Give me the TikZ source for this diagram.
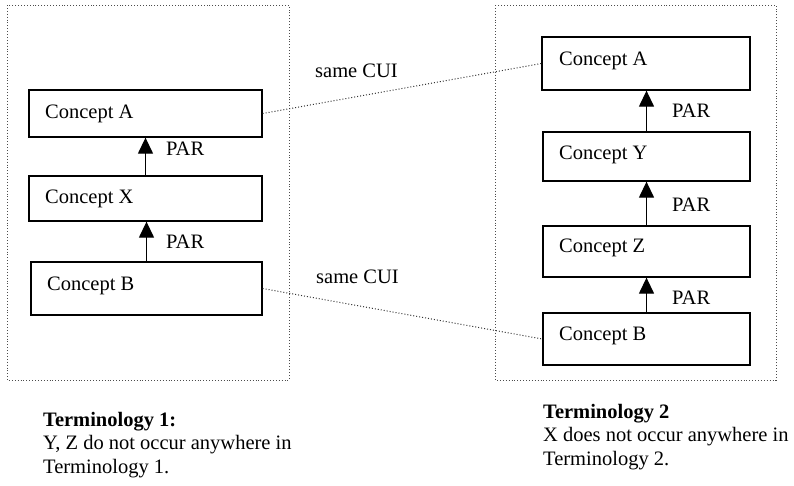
\documentclass[tikz,border=0pt]{standalone}
\usepackage{fontspec}
\setmainfont{Liberation Serif}
\usetikzlibrary{arrows.meta}
\begin{document}
\begin{tikzpicture}[x=1pt,y=-1pt,
  frame/.style={draw=black!70,line width=0.9pt,dotted},
  cbox/.style={draw=black,line width=1.3pt,rectangle,inner sep=0pt},
  ctext/.style={anchor=base west,inner sep=0pt,font=\fontsize{20.5}{23}\selectfont},
  par/.style={draw=black,line width=1.3pt,-{Triangle[width=15pt,length=16pt]}},
  link/.style={draw=black!80,line width=1pt,dotted},
  note/.style={anchor=north west,inner sep=0pt,align=left,font=\fontsize{20.5}{23.5}\selectfont}]
\useasboundingbox (0,0) rectangle (794,485);
% frames
\draw[frame] (7,5) rectangle (289,380);
\draw[frame] (495,5) rectangle (776,380);
% left boxes
\node[cbox,minimum width=233pt,minimum height=47pt] (LA) at (145.5,113.5) {};
\node[cbox,minimum width=233pt,minimum height=45pt] (LX) at (145.5,198.5) {};
\node[cbox,minimum width=231pt,minimum height=53pt] (LB) at (146.5,288.5) {};
\node[ctext] (tLA) at (45,118) {Concept A};
\node[ctext] (tLX) at (45,203) {Concept X};
\node[ctext] (tLB) at (47,290) {Concept B};
% right boxes
\node[cbox,minimum width=208pt,minimum height=53pt] (RA) at (646,63.5) {};
\node[cbox,minimum width=207pt,minimum height=49pt] (RY) at (646.5,156.5) {};
\node[cbox,minimum width=207pt,minimum height=51pt] (RZ) at (646.5,251.5) {};
\node[cbox,minimum width=207pt,minimum height=52pt] (RB) at (646.5,339) {};
\node[ctext] (tRA) at (559,65) {Concept A};
\node[ctext] (tRY) at (559,159) {Concept Y};
\node[ctext] (tRZ) at (559,252) {Concept Z};
\node[ctext] (tRB) at (559,340) {Concept B};
% PAR arrows
\draw[par] (LX.north) ++(0,0) coordinate (lx1) -- (lx1 |- LA.south);
\draw[par] (LB.north) ++(0,0) coordinate (lb1) -- (lb1 |- LX.south);
\draw[par] (RY.north) ++(0,0) coordinate (ry1) -- (ry1 |- RA.south);
\draw[par] (RZ.north) ++(0,0) coordinate (rz1) -- (rz1 |- RY.south);
\draw[par] (RB.north) ++(0,0) coordinate (rb1) -- (rb1 |- RZ.south);
\node[ctext] (p1) at (166,155) {PAR};
\node[ctext] (p2) at (166,248) {PAR};
\node[ctext] (p3) at (672,117) {PAR};
\node[ctext] (p4) at (672,211) {PAR};
\node[ctext] (p5) at (672,304) {PAR};
% same CUI links
\draw[link] (LA.east) -- (RA.west);
\draw[link] (LB.east) -- (RB.west);
\node[ctext] (s1) at (315,77) {same CUI};
\node[ctext] (s2) at (316,283) {same CUI};
% notes
\node[note] (n1) at (43,412) {\textbf{Terminology 1:}\\Y, Z do not occur anywhere in\\Terminology 1.};
\node[note] (n2) at (543,404) {\textbf{Terminology 2}\\X does not occur anywhere in\\Terminology 2.};
\end{tikzpicture}
\end{document}
